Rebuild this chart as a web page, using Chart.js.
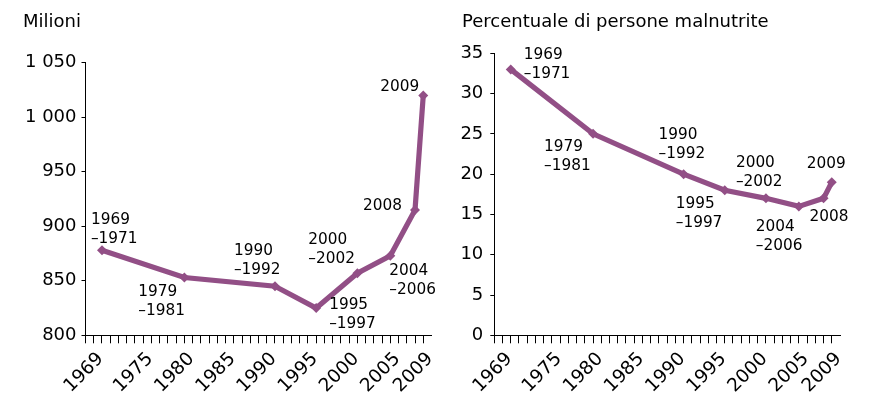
<!DOCTYPE html>
<html lang="it">
<head>
<meta charset="UTF-8">
<title>Persone malnutrite nel mondo</title>
<script src="https://cdn.jsdelivr.net/npm/chart.js"></script>
<style>
  body { margin: 0; background: #fff; font-family: "DejaVu Sans", Verdana, sans-serif; }
  .pannello { position: absolute; top: 0; height: 394px; }
  .titolo { position: absolute; top: 12px; font-size: 18px; line-height: 18px; color: #000; white-space: nowrap; }
  canvas { position: absolute; left: 0; top: 0; }
</style>
</head>
<body>

<div class="pannello" style="left:0;width:440px">
  <canvas id="graficoMilioni" width="440" height="394"></canvas>
  <div class="titolo" style="left:23px">Milioni</div>
</div>
<div class="pannello" style="left:440px;width:430px">
  <canvas id="graficoPercentuale" width="430" height="394"></canvas>
  <div class="titolo" style="left:22px">Percentuale di persone malnutrite</div>
</div>

<script>
// periodi FAO e anno su cui viene posto ciascun punto
const periodi = ['1969\n–1971', '1979\n–1981', '1990\n–1992', '1995\n–1997', '2000\n–2002', '2004\n–2006', '2008', '2009'];
const anniPunti = [1970, 1980, 1991, 1996, 2001, 2005, 2008, 2009];

// persone malnutrite (milioni) e quota sulla popolazione (%)
const milioni = [878, 853, 845, 825, 857, 873, 915, 1020];
const percentuale = [33, 25, 20, 18, 17, 16, 17, 19];

// etichette dell'asse degli anni e dei due assi verticali
const anniEtichetta = [1969, 1975, 1980, 1985, 1990, 1995, 2000, 2005, 2009];
const tickMilioni = [800, 850, 900, 950, 1000, 1050];
const tickPercentuale = [0, 5, 10, 15, 20, 25, 30, 35];

// spostamento (dx, dy) del testo di ogni periodo rispetto al suo punto
const spostMilioni = [[-11, -26], [-46, 18], [-41, -31], [13, 1], [-49, -29], [-1, 19], [-52, 0], [-43, -4]];
const spostPercentuale = [[13, -10], [-49, 17], [-25, -35], [-49, 18], [-30, -31], [-43, 25], [-14, 23], [-25, -14]];

const FONT = '"DejaVu Sans", Verdana, sans-serif';
const VIOLA = '#924f86';
Chart.defaults.font.family = FONT;
Chart.defaults.color = '#000';

function migliaia(v) {
  return String(v).replace(/\B(?=(\d{3})+(?!\d))/g, ' ');
}

// scrive il periodo accanto a ogni punto della linea
const etichettePeriodi = {
  id: 'etichettePeriodi',
  afterDatasetsDraw(chart, args, opts) {
    const ctx = chart.ctx;
    const punti = chart.getDatasetMeta(0).data;
    ctx.save();
    ctx.font = '15.3px ' + FONT;
    ctx.fillStyle = '#000';
    ctx.textBaseline = 'alphabetic';
    ctx.textAlign = 'left';
    punti.forEach((p, i) => {
      const [dx, dy] = opts.spost[i];
      periodi[i].split('\n').forEach((riga, j) => {
        ctx.fillText(riga, p.x + dx, p.y + dy + j * 19);
      });
    });
    ctx.restore();
  }
};

function creaGrafico(id, valori, yMin, yMax, tickY, spost, area) {
  new Chart(document.getElementById(id), {
    type: 'line',
    data: {
      datasets: [{
        data: anniPunti.map((a, i) => ({ x: a, y: valori[i] })),
        borderColor: VIOLA,
        borderWidth: 5.2,
        pointStyle: 'rectRot',
        pointRadius: 5,
        pointBackgroundColor: VIOLA,
        pointBorderWidth: 0,
        tension: 0,
        clip: false
      }]
    },
    options: {
      responsive: false,
      animation: false,
      events: [],
      layout: { padding: { top: area.top, right: area.right, left: 0, bottom: 0 } },
      plugins: {
        legend: { display: false },
        tooltip: { enabled: false },
        etichettePeriodi: { spost: spost }
      },
      scales: {
        x: {
          type: 'linear',
          min: 1968,
          max: 2010,
          afterBuildTicks(scale) {
            const t = [];
            for (let a = 1968; a <= 2010; a++) t.push({ value: a });
            scale.ticks = t;
          },
          afterFit(scale) {
            scale.height = 58.7;
            // le etichette ruotate non devono restringere l'area del grafico
            scale.paddingLeft = 0;
            scale.paddingRight = 0;
          },
          grid: {
            drawOnChartArea: false,
            tickLength: 8,
            color: c => (c.tick && c.tick.value === 2010) ? 'rgba(0,0,0,0)' : '#000'
          },
          border: { color: '#000', width: 1 },
          ticks: {
            autoSkip: false,
            minRotation: 45,
            maxRotation: 45,
            padding: 5,
            labelOffset: 7,
            font: { size: 18.5 },
            color: '#000',
            callback: v => anniEtichetta.includes(v) ? String(v) : ''
          }
        },
        y: {
          min: yMin,
          max: yMax,
          afterBuildTicks(scale) { scale.ticks = tickY.map(v => ({ value: v })); },
          afterFit(scale) { scale.width = area.left; },
          grid: { drawOnChartArea: false, tickLength: 4, color: '#000' },
          border: { color: '#000', width: 1 },
          ticks: {
            padding: area.pad,
            font: { size: 18 },
            color: '#000',
            callback: v => migliaia(v)
          }
        }
      }
    },
    plugins: [etichettePeriodi]
  });
}

creaGrafico('graficoMilioni', milioni, 800, 1050, tickMilioni, spostMilioni,
  { top: 62.7, right: 8.5, left: 85.5, pad: 5 });
creaGrafico('graficoPercentuale', percentuale, 0, 35, tickPercentuale, spostPercentuale,
  { top: 53.3, right: 30, left: 54.3, pad: 7 });
</script>
</body>
</html>
